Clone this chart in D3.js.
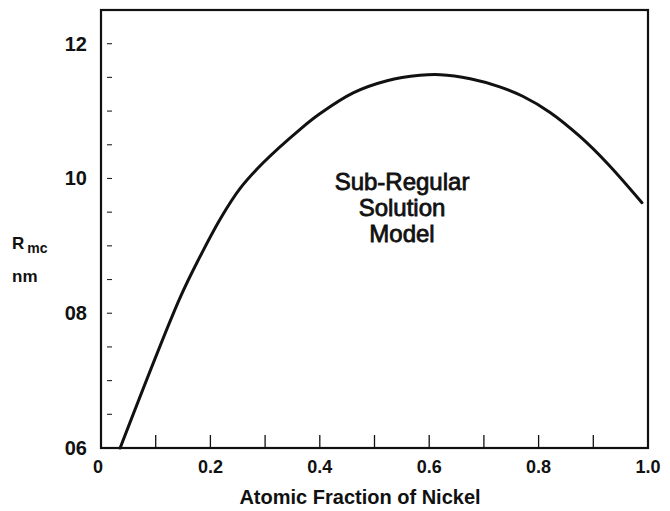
<!DOCTYPE html>
<html>
<head>
<meta charset="utf-8">
<script src="https://cdnjs.cloudflare.com/ajax/libs/d3/7.8.5/d3.min.js"></script>
<style>
    body { margin: 0; background: #fff; }
    svg { display: block; font-family: "Liberation Sans", Arial, sans-serif; }
</style>
</head>
<body>
<svg id="chart" width="670" height="511"></svg>
<script>
// Curve: atomic fraction of nickel vs R_mc
var nickelFraction = [0.035, 0.144, 0.181, 0.218, 0.254, 0.296, 0.364, 0.40, 0.461,
                      0.523, 0.583, 0.62, 0.675, 0.729, 0.771, 0.821, 0.876, 0.925, 0.989];
var rmcValues = [6.0, 8.22, 8.84, 9.40, 9.85, 10.23, 10.73, 10.96, 11.27,
                 11.45, 11.53, 11.54, 11.48, 11.36, 11.22, 10.98, 10.62, 10.23, 9.64];

var xTickValues = [0.1, 0.2, 0.3, 0.4, 0.5, 0.6, 0.7, 0.8, 0.9];
var xLabelValues = [0, 0.2, 0.4, 0.6, 0.8, 1.0];
var xLabelText = ["0", "0.2", "0.4", "0.6", "0.8", "1.0"];
var yMinorValues = [6.5, 7, 7.5, 8, 8.5, 9, 9.5, 10, 10.5, 11, 11.5, 12];
var yLabelValues = [12, 10, 8, 6];
var yLabelText = ["12", "10", "08", "06"];
var noteLines = ["Sub-Regular", "Solution", "Model"];

var svg = d3.select("#chart");

var x = d3.scaleLinear().domain([0, 1]).range([101, 648]);
var y = d3.scaleLinear().domain([6, 12.5]).range([448, 10]);

// frame
svg.append("rect")
    .attr("x", x(0))
    .attr("y", y(12.5))
    .attr("width", x(1) - x(0))
    .attr("height", y(6) - y(12.5))
    .attr("fill", "none")
    .attr("stroke", "#111")
    .attr("stroke-width", 2.2);

// x ticks point up from the bottom axis
svg.append("g").selectAll("line")
    .data(xTickValues)
    .enter().append("line")
    .attr("x1", function (d) { return x(d); })
    .attr("x2", function (d) { return x(d); })
    .attr("y1", y(6))
    .attr("y2", y(6) - 13)
    .attr("stroke", "#111")
    .attr("stroke-width", 1.3);

// y ticks are small dashes sitting just inside the axis
svg.append("g").selectAll("line")
    .data(yMinorValues)
    .enter().append("line")
    .attr("x1", 107)
    .attr("x2", 112)
    .attr("y1", function (d) { return y(d); })
    .attr("y2", function (d) { return y(d); })
    .attr("stroke", "#222")
    .attr("stroke-width", 1.1);

svg.append("g").selectAll("text")
    .data(xLabelValues)
    .enter().append("text")
    .attr("x", function (d) { return d === 0 ? x(d) - 3 : x(d); })
    .attr("y", 473)
    .attr("text-anchor", "middle")
    .attr("font-size", 18)
    .attr("font-weight", "bold")
    .attr("fill", "#111")
    .text(function (d, i) { return xLabelText[i]; });

svg.append("g").selectAll("text")
    .data(yLabelValues)
    .enter().append("text")
    .attr("x", 87)
    .attr("y", function (d) { return y(d) + 7; })
    .attr("text-anchor", "end")
    .attr("font-size", 20)
    .attr("font-weight", "bold")
    .attr("fill", "#111")
    .text(function (d, i) { return yLabelText[i]; });

svg.append("text")
    .attr("x", 360)
    .attr("y", 504)
    .attr("text-anchor", "middle")
    .attr("font-size", 20)
    .attr("font-weight", "bold")
    .attr("fill", "#111")
    .text("Atomic  Fraction of Nickel");

var rLabel = svg.append("text")
    .attr("x", 12)
    .attr("y", 249)
    .attr("font-size", 17)
    .attr("font-weight", "bold")
    .attr("fill", "#111");
rLabel.append("tspan").text("R");
rLabel.append("tspan").attr("dx", 3).attr("dy", 4).attr("font-size", 14).text("mc");

svg.append("text")
    .attr("x", 12)
    .attr("y", 282)
    .attr("font-size", 17)
    .attr("font-weight", "bold")
    .attr("fill", "#111")
    .text("nm");

svg.append("g").selectAll("text")
    .data(noteLines)
    .enter().append("text")
    .attr("x", 402)
    .attr("y", function (d, i) { return 190 + i * 26; })
    .attr("text-anchor", "middle")
    .attr("font-size", 24)
    .attr("fill", "#111")
    .attr("stroke", "#111")
    .attr("stroke-width", 0.8)
    .text(function (d) { return d; });

var line = d3.line()
    .x(function (d, i) { return x(nickelFraction[i]); })
    .y(function (d) { return y(d); })
    .curve(d3.curveCatmullRom.alpha(0.5));

svg.append("path")
    .datum(rmcValues)
    .attr("d", line)
    .attr("fill", "none")
    .attr("stroke", "#111")
    .attr("stroke-width", 3)
    .attr("stroke-linecap", "round");
</script>
</body>
</html>
